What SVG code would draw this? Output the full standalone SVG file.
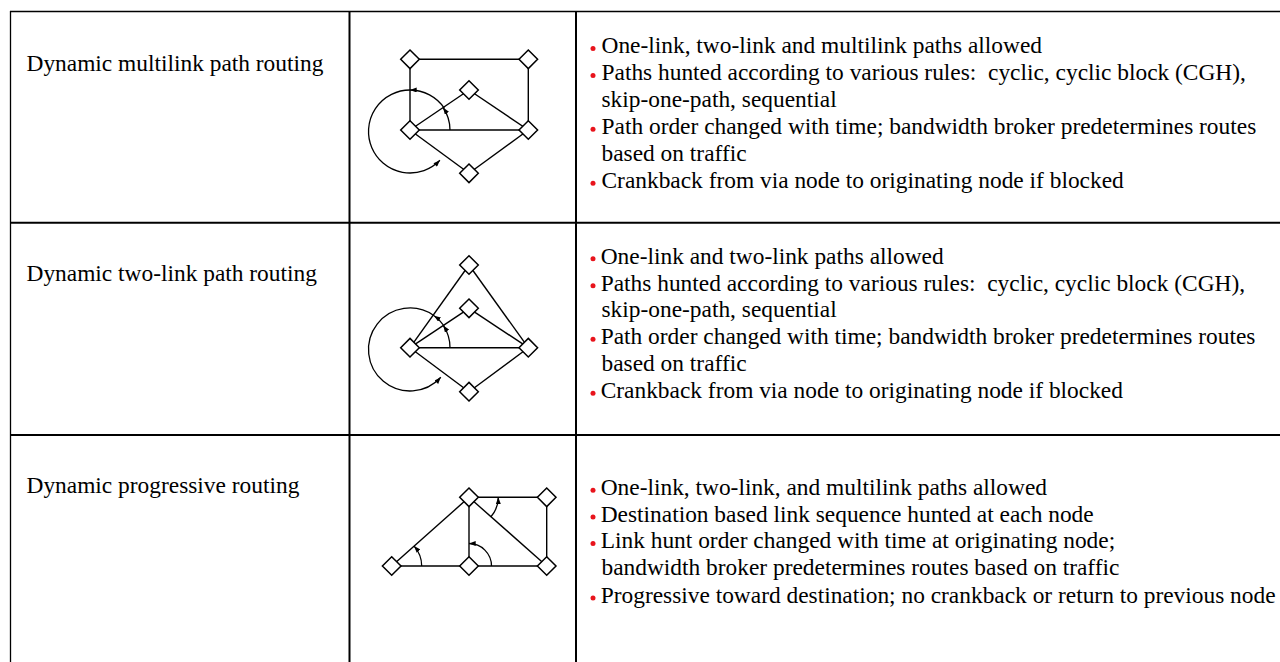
<svg xmlns="http://www.w3.org/2000/svg" width="1280" height="662" viewBox="0 0 1280 662">
<style>
.t{font-family:"Liberation Serif","Times New Roman",serif;font-size:23.4px;fill:#000}
.grid{stroke:#000;fill:none}
.thin{stroke-width:1.3}
.thick{stroke-width:2}
.ln{stroke:#000;stroke-width:1.4;fill:none}
.arc{stroke:#000;stroke-width:1.3;fill:none}
.nd{fill:#fff;stroke:#000;stroke-width:1.5}
.b{fill:#e8141c}
</style>
<defs>
<marker id="ah" viewBox="0 0 8 6" markerWidth="7" markerHeight="5" refX="8" refY="3" orient="auto" markerUnits="userSpaceOnUse">
<path d="M0,0 L8,3 L0,6 z" fill="#000"/>
</marker>
<polygon id="dm" points="0,-9.3 9.3,0 0,9.3 -9.3,0" class="nd"/>
</defs>
<rect width="1280" height="662" fill="#fff"/>

<g id="table">
<line class="grid thin" x1="10" y1="11.5" x2="1280" y2="11.5"/>
<line class="grid thin" x1="10.5" y1="11" x2="10.5" y2="662"/>
<line class="grid thick" x1="349.5" y1="11" x2="349.5" y2="662"/>
<line class="grid thick" x1="576" y1="11" x2="576" y2="662"/>
<line class="grid thick" x1="10" y1="222.7" x2="1280" y2="222.7"/>
<line class="grid thick" x1="10" y1="435" x2="1280" y2="435"/>
</g>

<g id="labels">
<text class="t" x="26.5" y="71">Dynamic multilink path routing</text>
<text class="t" x="26.5" y="281">Dynamic two-link path routing</text>
<text class="t" x="26.5" y="493.3">Dynamic progressive routing</text>
</g>

<g id="desc1">
<circle class="b" cx="593" cy="48.6" r="2.5"/>
<circle class="b" cx="593" cy="75.6" r="2.5"/>
<circle class="b" cx="593" cy="129.3" r="2.5"/>
<circle class="b" cx="593" cy="183.3" r="2.5"/>
<text class="t" x="601.5" y="53.3">One-link, two-link and multilink paths allowed</text>
<text class="t" x="601.5" y="80.3">Paths hunted according to various rules:&#160; cyclic, cyclic block (CGH),</text>
<text class="t" x="601.5" y="107">skip-one-path, sequential</text>
<text class="t" x="601.5" y="134">Path order changed with time; bandwidth broker predetermines routes</text>
<text class="t" x="601.5" y="161">based on traffic</text>
<text class="t" x="601.5" y="188">Crankback from via node to originating node if blocked</text>
</g>

<g id="desc2">
<circle class="b" cx="593" cy="258.8" r="2.5"/>
<circle class="b" cx="593" cy="285.8" r="2.5"/>
<circle class="b" cx="593" cy="339.3" r="2.5"/>
<circle class="b" cx="593" cy="393.3" r="2.5"/>
<text class="t" x="600.7" y="263.5">One-link and two-link paths allowed</text>
<text class="t" x="600.7" y="290.5">Paths hunted according to various rules:&#160; cyclic, cyclic block (CGH),</text>
<text class="t" x="601.5" y="317">skip-one-path, sequential</text>
<text class="t" x="600.7" y="344">Path order changed with time; bandwidth broker predetermines routes</text>
<text class="t" x="601.5" y="371">based on traffic</text>
<text class="t" x="600.7" y="398">Crankback from via node to originating node if blocked</text>
</g>

<g id="desc3">
<circle class="b" cx="593" cy="490.3" r="2.5"/>
<circle class="b" cx="593" cy="517" r="2.5"/>
<circle class="b" cx="593" cy="543.6" r="2.5"/>
<circle class="b" cx="593" cy="598" r="2.5"/>
<text class="t" x="600.7" y="495">One-link, two-link, and multilink paths allowed</text>
<text class="t" x="600.7" y="521.7">Destination based link sequence hunted at each node</text>
<text class="t" x="600.7" y="548.3">Link hunt order changed with time at originating node;</text>
<text class="t" x="601.5" y="575">bandwidth broker predetermines routes based on traffic</text>
<text class="t" x="600.7" y="602.7">Progressive toward destination; no crankback or return to previous node</text>
</g>

<g id="connectors">
<!-- diagram 1 -->
<line class="ln" x1="410" y1="59.3" x2="528.3" y2="59.3"/>
<line class="ln" x1="410" y1="59.3" x2="410" y2="130"/>
<line class="ln" x1="528.3" y1="59.3" x2="528.3" y2="130"/>
<line class="ln" x1="410" y1="130" x2="469" y2="90"/>
<line class="ln" x1="469" y1="90" x2="528.3" y2="130"/>
<line class="ln" x1="410" y1="130" x2="528.3" y2="130"/>
<line class="ln" x1="410" y1="130" x2="469" y2="173.3"/>
<line class="ln" x1="469" y1="173.3" x2="528.3" y2="130"/>
<path class="arc" d="M450,130 A40,40 0 0 0 443.1,107.6" marker-end="url(#ah)"/>
<path class="arc" d="M444.4,108.3 A41.5,41.5 0 0 0 410,90" marker-end="url(#ah)"/>
<path class="arc" d="M410,90 A41.5,41.5 0 1 0 439.9,160.3" marker-end="url(#ah)"/>
<!-- diagram 2 -->
<line class="ln" x1="410" y1="347.7" x2="469" y2="265"/>
<line class="ln" x1="469" y1="265" x2="528.3" y2="347.7"/>
<line class="ln" x1="410" y1="347.7" x2="469" y2="308.3"/>
<line class="ln" x1="469" y1="308.3" x2="528.3" y2="347.7"/>
<line class="ln" x1="410" y1="347.7" x2="528.3" y2="347.7"/>
<line class="ln" x1="410" y1="347.7" x2="469" y2="391.7"/>
<line class="ln" x1="469" y1="391.7" x2="528.3" y2="347.7"/>
<path class="arc" d="M450,347.7 A40,40 0 0 0 443.3,325.5" marker-end="url(#ah)"/>
<path class="arc" d="M444.5,326.5 A41.5,41.5 0 0 0 434.1,315.7" marker-end="url(#ah)"/>
<path class="arc" d="M434.1,315.7 A41.5,41.5 0 1 0 440.8,377.3" marker-end="url(#ah)"/>
<!-- diagram 3 -->
<line class="ln" x1="469" y1="497.3" x2="546.7" y2="497.3"/>
<line class="ln" x1="546.7" y1="497.3" x2="546.7" y2="566"/>
<line class="ln" x1="391.7" y1="566" x2="546.7" y2="566"/>
<line class="ln" x1="469" y1="566" x2="469" y2="497.3"/>
<line class="ln" x1="391.7" y1="566" x2="469" y2="497.3"/>
<line class="ln" x1="469" y1="497.3" x2="546.7" y2="566"/>
<path class="arc" d="M421.7,566 A30,30 0 0 0 414.1,546.1" marker-end="url(#ah)"/>
<path class="arc" d="M491.5,566 A22.5,22.5 0 0 0 469,543.5" marker-end="url(#ah)"/>
<path class="arc" d="M490.9,516.7 A29.3,29.3 0 0 0 498.3,497.3" marker-end="url(#ah)"/>
</g>

<g id="n1a"><use href="#dm" x="410" y="59.3"/></g>
<g id="n1b"><use href="#dm" x="528.3" y="59.3"/></g>
<g id="n1c"><use href="#dm" x="469" y="90"/></g>
<g id="n1d"><use href="#dm" x="410" y="130"/></g>
<g id="n1e"><use href="#dm" x="528.3" y="130"/></g>
<g id="n1f"><use href="#dm" x="469" y="173.3"/></g>

<g id="n2a"><use href="#dm" x="469" y="265"/></g>
<g id="n2b"><use href="#dm" x="469" y="308.3"/></g>
<g id="n2c"><use href="#dm" x="410" y="347.7"/></g>
<g id="n2d"><use href="#dm" x="528.3" y="347.7"/></g>
<g id="n2e"><use href="#dm" x="469" y="391.7"/></g>

<g id="n3a"><use href="#dm" x="469" y="497.3"/></g>
<g id="n3b"><use href="#dm" x="546.7" y="497.3"/></g>
<g id="n3c"><use href="#dm" x="391.7" y="566"/></g>
<g id="n3d"><use href="#dm" x="469" y="566"/></g>
<g id="n3e"><use href="#dm" x="546.7" y="566"/></g>
</svg>
